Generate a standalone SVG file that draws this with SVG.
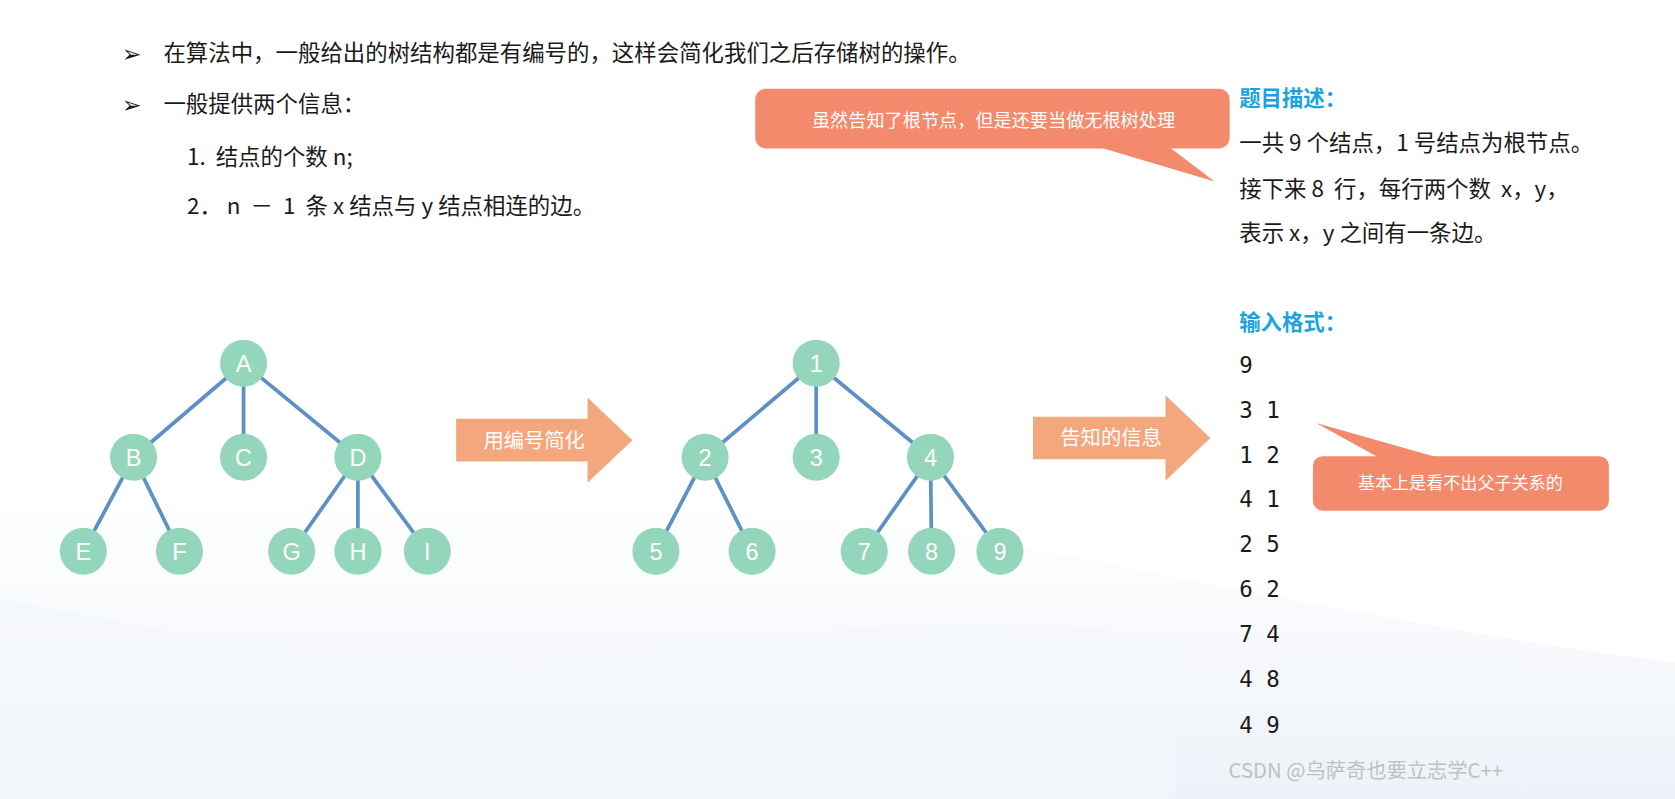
<svg xmlns="http://www.w3.org/2000/svg" width="1675" height="799" viewBox="0 0 1675 799">
<defs>
<style>
.t{font-family:"Noto Sans CJK SC","Noto Sans",sans-serif;fill:#1a1a1a}
.n circle{fill:#93D6BC}
.n text{font-family:"Liberation Sans",sans-serif;font-size:22px;fill:#fff;text-anchor:middle}
.e line{stroke:#5E90C6;stroke-width:3.5}
.h{font-family:"Noto Sans CJK SC",sans-serif;font-weight:bold;font-size:20px;fill:#1AA3E0}
.m{font-family:"DejaVu Sans Mono","Liberation Mono",monospace;font-size:21px;fill:#1a1a1a}
.w{font-family:"Noto Sans CJK SC",sans-serif;fill:#fff;text-anchor:middle}
</style>
<linearGradient id="bg" x1="0" y1="0" x2="0" y2="1"><stop offset="0" stop-color="#fff"/><stop offset="1" stop-color="#eef2f8"/></linearGradient>
</defs>
<rect width="1675" height="799" fill="#fff"/>
<g transform="scale(1.0683)">
<path d="M0 470 C300 450 700 470 1000 520 C1200 560 1400 600 1568 620 L1568 748 L0 748 Z" fill="url(#bg)"/>
<path d="M0 560 C200 600 400 640 500 630 C700 600 900 560 1100 600 L1100 748 L0 748 Z" fill="#f3f6fb" opacity="0.7"/>
<g class="t" font-size="21">
<text x="114" y="58" font-size="22" font-family="DejaVu Sans,sans-serif">➢</text>
<text x="153" y="57">在算法中，一般给出的树结构都是有编号的，这样会简化我们之后存储树的操作。</text>
<text x="114" y="106" font-size="22" font-family="DejaVu Sans,sans-serif">➢</text>
<text x="153" y="105">一般提供两个信息：</text>
<text x="175" y="154" xml:space="preserve">1.  结点的个数 n;</text>
<text x="175" y="200" xml:space="preserve">2． n  －  1  条 x 结点与 y 结点相连的边。</text>
</g>
<g id="bubble1">
<rect x="707" y="83" width="444" height="56" rx="10" fill="#F38A6B"/>
<path d="M1030 138 L1095 138 L1137 170 Z" fill="#F38A6B"/>
<text class="w" x="930" y="119" font-size="17">虽然告知了根节点，但是还要当做无根树处理</text>
</g>
<g id="desc" class="t" font-size="21">
<text class="h" x="1160" y="99">题目描述：</text>
<text x="1160" y="141">一共 9 个结点，1 号结点为根节点。</text>
<text x="1160" y="184" xml:space="preserve">接下来 8  行，每行两个数  x，y，</text>
<text x="1160" y="226">表示 x，y 之间有一条边。</text>
<text class="h" x="1160" y="309">输入格式：</text>
</g>
<g id="input" class="m">
<text x="1160" y="349">9</text>
<text x="1160" y="391">3 1</text>
<text x="1160" y="433">1 2</text>
<text x="1160" y="475">4 1</text>
<text x="1160" y="517">2 5</text>
<text x="1160" y="559">6 2</text>
<text x="1160" y="601">7 4</text>
<text x="1160" y="643">4 8</text>
<text x="1160" y="686">4 9</text>
</g>
<g id="bubble2">
<rect x="1229" y="427" width="277" height="51" rx="9" fill="#F38A6B"/>
<path d="M1290 428 L1345 428 L1232 396 Z" fill="#F38A6B"/>
<text class="w" x="1367" y="458" font-size="16">基本上是看不出父子关系的</text>
</g>
<g id="connectors" class="e">
<line x1="228" y1="340" x2="125" y2="428"/><line x1="228" y1="340" x2="228" y2="428"/><line x1="228" y1="340" x2="335" y2="428"/>
<line x1="125" y1="428" x2="78" y2="516"/><line x1="125" y1="428" x2="168" y2="516"/>
<line x1="335" y1="428" x2="273" y2="516"/><line x1="335" y1="428" x2="335" y2="516"/><line x1="335" y1="428" x2="400" y2="516"/>
<line x1="764" y1="340" x2="660" y2="428"/><line x1="764" y1="340" x2="764" y2="428"/><line x1="764" y1="340" x2="871" y2="428"/>
<line x1="660" y1="428" x2="614" y2="516"/><line x1="660" y1="428" x2="704" y2="516"/>
<line x1="871" y1="428" x2="809" y2="516"/><line x1="871" y1="428" x2="872" y2="516"/><line x1="871" y1="428" x2="936" y2="516"/>
</g>
<g class="n">
<g id="nA"><circle cx="228" cy="340" r="22"/><text x="228" y="348">A</text></g>
<g id="nB"><circle cx="125" cy="428" r="22"/><text x="125" y="436">B</text></g>
<g id="nC"><circle cx="228" cy="428" r="22"/><text x="228" y="436">C</text></g>
<g id="nD"><circle cx="335" cy="428" r="22"/><text x="335" y="436">D</text></g>
<g id="nE"><circle cx="78" cy="516" r="22"/><text x="78" y="524">E</text></g>
<g id="nF"><circle cx="168" cy="516" r="22"/><text x="168" y="524">F</text></g>
<g id="nG"><circle cx="273" cy="516" r="22"/><text x="273" y="524">G</text></g>
<g id="nH"><circle cx="335" cy="516" r="22"/><text x="335" y="524">H</text></g>
<g id="nI"><circle cx="400" cy="516" r="22"/><text x="400" y="524">I</text></g>
<g id="n1"><circle cx="764" cy="340" r="22"/><text x="764" y="348">1</text></g>
<g id="n2"><circle cx="660" cy="428" r="22"/><text x="660" y="436">2</text></g>
<g id="n3"><circle cx="764" cy="428" r="22"/><text x="764" y="436">3</text></g>
<g id="n4"><circle cx="871" cy="428" r="22"/><text x="871" y="436">4</text></g>
<g id="n5"><circle cx="614" cy="516" r="22"/><text x="614" y="524">5</text></g>
<g id="n6"><circle cx="704" cy="516" r="22"/><text x="704" y="524">6</text></g>
<g id="n7"><circle cx="809" cy="516" r="22"/><text x="809" y="524">7</text></g>
<g id="n8"><circle cx="872" cy="516" r="22"/><text x="872" y="524">8</text></g>
<g id="n9"><circle cx="936" cy="516" r="22"/><text x="936" y="524">9</text></g>
</g>
<g id="arrow1">
<path d="M427 392 L550 392 L550 372 L592 412 L550 452 L550 432 L427 432 Z" fill="#F4A77C"/>
<text class="w" x="500" y="419" font-size="19">用编号简化</text>
</g>
<g id="arrow2">
<path d="M967 390 L1091 390 L1091 370 L1133 410 L1091 450 L1091 430 L967 430 Z" fill="#F4A77C"/>
<text class="w" x="1040" y="417" font-size="19">告知的信息</text>
</g>
<text x="1150" y="728" font-family="Noto Sans CJK SC,sans-serif" font-size="19" fill="#c0c0c0">CSDN @乌萨奇也要立志学C++</text>
</g>
</svg>
